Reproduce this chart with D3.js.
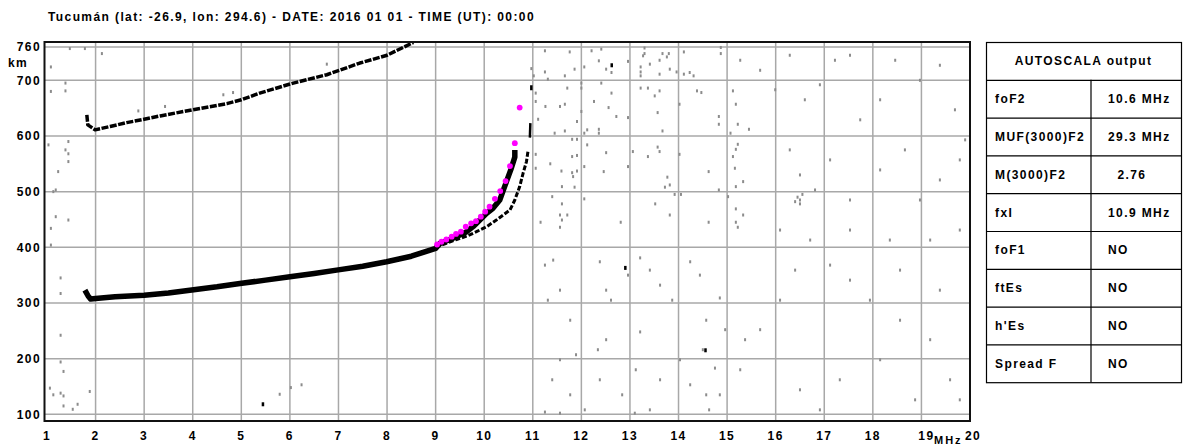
<!DOCTYPE html>
<html>
<head>
<meta charset="utf-8">
<script src="https://cdn.jsdelivr.net/npm/d3@7"></script>
<style>
  body { margin: 0; background: #fff; }
  svg text { font-family: "Liberation Sans", Arial, sans-serif; font-weight: bold; font-size: 12px; letter-spacing: 1.4px; fill: #000; }
</style>
</head>
<body>
<div id="chart"></div>
<script>
const titre = "Tucumán (lat: -26.9, lon: 294.6) - DATE: 2016 01 01 - TIME (UT): 00:00";
const freqTicks = [1, 2, 3, 4, 5, 6, 7, 8, 9, 10, 11, 12, 13, 14, 15, 16, 17, 18, 19, 20];
const hautTicks = [100, 200, 300, 400, 500, 600, 700, 760];

//------Trace F2 principale (mode O, premier saut) [MHz, km]
const traceF2 = [[1.78, 323], [1.85, 312], [1.9, 307], [2.0, 308], [2.4, 311], [3.0, 314], [3.5, 318],
  [3.94, 323], [4.5, 329], [4.97, 335], [5.5, 341], [6.0, 347], [6.5, 353], [6.96, 359], [7.5, 366],
  [7.99, 374], [8.5, 384], [9.0, 398], [9.09, 407], [9.3, 414], [9.5, 422], [9.64, 428], [9.77, 437],
  [9.91, 449], [10.05, 461], [10.18, 470], [10.32, 485], [10.42, 509], [10.55, 540], [10.63, 562], [10.63, 575]];

//------Branche extraordinaire (mode X)
const traceX = [[9.0, 400], [9.22, 407], [9.43, 414], [9.64, 420], [9.84, 428], [10.05, 437], [10.25, 449],
  [10.39, 458], [10.53, 467], [10.63, 485], [10.73, 509], [10.8, 533], [10.87, 554], [10.9, 572]];
const traceXhaut = [[10.94, 597], [10.95, 623]];
const traceXpic = [[10.97, 682], [10.97, 691]];

//------Deuxième saut
const trace2F2 = [[1.82, 638], [1.84, 620], [1.99, 611], [2.3, 617], [2.64, 624], [3.0, 630], [3.33, 636],
  [4.0, 647], [4.7, 658], [5.0, 665], [5.38, 677], [6.07, 695], [6.76, 710], [7.44, 731], [8.0, 745],
  [8.54, 768]];

//------Trace autoscalée (points magenta)
const autoscala = [[9.03, 405], [9.12, 410], [9.22, 414], [9.33, 419], [9.42, 424], [9.52, 428], [9.62, 437],
  [9.73, 443], [9.83, 447], [9.93, 455], [10.02, 464], [10.11, 473], [10.22, 487], [10.33, 501],
  [10.44, 519], [10.53, 546], [10.63, 587], [10.73, 651]];

//------Bruit (points gris isolés)
const bruit = [
  [1.08, 724], [1.08, 680], [1.38, 695], [1.38, 681], [1.03, 584], [1.44, 590], [1.38, 575], [1.44, 568],
  [1.44, 554], [1.23, 536], [1.13, 500], [1.18, 503], [1.18, 455], [1.08, 434], [1.44, 449], [1.08, 404],
  [1.28, 345], [1.28, 317], [1.28, 242], [1.28, 194], [1.34, 177], [1.06, 147], [1.13, 135], [1.28, 138],
  [1.34, 133], [1.34, 115], [1.53, 109], [1.63, 118], [1.88, 141], [5.79, 136], [6.02, 148], [6.24, 153],
  [1.47, 757], [1.78, 757], [2.13, 748], [2.88, 645], [3.43, 653], [6.76, 729], [4.63, 674], [4.83, 678],
  [11.25, 753], [11.76, 751], [10.97, 721], [11.25, 715], [11.02, 708], [11.31, 702], [11.66, 708],
  [11.86, 720], [12.21, 753], [12.41, 756], [12.36, 735], [12.06, 724], [12.62, 714], [12.51, 720],
  [12.96, 734], [13.3, 758], [13.3, 748], [13.27, 744], [13.41, 729], [13.22, 724], [13.22, 715],
  [13.22, 708], [13.61, 736], [13.67, 748], [13.8, 748], [13.76, 742], [13.82, 720], [13.61, 711],
  [13.96, 715], [14.11, 751], [14.11, 711], [14.23, 714], [14.31, 708], [14.87, 759], [14.87, 748],
  [11.06, 677], [11.06, 662], [11.26, 653], [11.56, 653], [11.66, 657], [11.71, 686], [11.11, 630],
  [11.91, 626], [11.66, 609], [11.45, 605], [12.0, 695], [12.0, 686], [12.41, 695], [12.62, 677],
  [12.26, 662], [12.0, 644], [12.56, 651], [12.72, 635], [12.96, 633], [12.12, 611], [12.36, 612],
  [12.36, 605], [12.06, 605], [13.22, 686], [13.37, 686], [13.61, 681], [13.51, 672], [13.57, 642],
  [13.67, 609], [14.02, 657], [14.38, 681], [14.47, 678], [14.83, 635], [14.83, 621], [15.12, 681],
  [15.18, 657], [15.22, 621], [15.07, 605], [15.45, 612],
  [11.81, 594], [11.91, 594], [11.06, 567], [11.36, 550], [11.81, 563], [11.91, 565], [11.06, 542],
  [11.59, 537], [11.81, 534], [11.91, 537], [11.83, 527], [11.6, 509], [11.86, 508], [12.12, 584],
  [12.06, 545], [12.51, 570], [12.46, 536], [12.96, 545], [13.06, 572], [13.37, 563], [13.57, 580],
  [13.61, 572], [13.77, 526], [13.82, 512], [13.72, 508], [14.02, 567], [14.62, 536], [14.83, 503],
  [15.22, 585], [15.18, 576], [15.12, 563], [15.16, 542], [15.33, 518], [15.18, 509],
  [11.4, 491], [11.6, 478], [11.56, 458], [11.71, 458], [11.6, 449], [11.16, 445], [11.56, 436],
  [12.06, 487], [12.81, 445], [13.52, 478], [13.82, 458], [13.92, 495], [14.05, 495], [14.62, 445],
  [15.02, 491], [15.18, 469], [15.33, 458], [15.18, 445], [15.22, 436],
  [11.25, 368], [11.42, 377], [11.56, 323], [11.31, 305], [11.77, 269], [12.38, 374], [12.51, 323],
  [12.61, 305], [12.96, 350], [13.21, 381], [13.41, 359], [13.62, 332], [13.87, 305], [14.24, 374],
  [14.44, 350], [14.57, 269], [14.85, 309], [12.51, 234], [13.21, 248], [12.34, 216], [11.89, 207],
  [11.56, 198], [11.4, 162], [11.77, 135], [12.38, 162], [12.84, 135], [13.12, 180], [13.62, 162],
  [14.03, 198], [14.24, 153], [14.5, 216], [14.57, 135], [14.85, 135], [14.63, 108], [13.41, 108],
  [13.1, 102], [12.07, 108], [11.25, 104], [11.56, 102], [14.75, 183], [14.96, 252], [15.37, 234],
  [15.27, 180], [15.68, 252], [16.09, 305], [16.4, 359], [17.12, 368], [17.53, 341], [17.94, 305],
  [18.56, 269], [19.18, 234], [19.59, 162], [19.79, 126], [16.5, 144], [16.91, 108], [17.32, 162],
  [18.15, 198], [18.87, 126], [19.38, 323], [18.56, 359],
  [15.27, 736], [15.68, 718], [15.99, 683], [16.29, 745], [16.6, 665], [16.91, 692], [17.22, 736],
  [17.53, 745], [17.74, 629], [18.15, 665], [18.46, 736], [18.97, 700], [19.38, 727], [19.69, 647],
  [19.9, 593], [16.29, 575], [16.5, 530], [16.81, 503], [16.5, 485], [17.12, 557], [17.53, 485],
  [18.15, 539], [18.66, 575], [18.97, 485], [19.38, 521], [19.79, 431], [16.09, 431], [16.71, 413],
  [17.53, 431], [18.35, 413], [19.18, 413], [19.79, 557], [16.45, 490], [16.5, 478], [16.55, 495],
  [16.4, 482]
];
const bruitNoir = [[12.62, 727], [5.44, 118], [12.9, 363], [14.55, 215]];

//------Tableau AUTOSCALA
const tabEntete = "AUTOSCALA output";
const tabNoms = ["foF2", "MUF(3000)F2", "M(3000)F2", "fxI", "foF1", "ftEs", "h'Es", "Spread F"];
const tabValeurs = ["10.6 MHz", "29.3 MHz", "  2.76", "10.9 MHz", "NO", "NO", "NO", "NO"];

//Création du svg
const svg = d3.select("#chart")
  .append("svg")
  .attr("width", 1183)
  .attr("height", 448)
  .style("background", "#fff");

//------Echelles
const x = d3.scaleLinear().domain([1, 20]).range([47, 970]);
const y = d3.scaleLinear().domain([100, 760]).range([414.3, 46.9]);

//------Cadre du graphe
const cadre = { x0: 44.5, x1: 970, y0: 42, y1: 421 };

svg.append("text")
  .attr("x", 48)
  .attr("y", 21)
  .text(titre);

svg.append("defs").append("clipPath")
  .attr("id", "clip")
  .append("rect")
  .attr("x", cadre.x0)
  .attr("y", cadre.y0)
  .attr("width", cadre.x1 - cadre.x0)
  .attr("height", cadre.y1 - cadre.y0);

//------Grille
const grille = svg.append("g").attr("stroke", "#a8a8a8").attr("stroke-width", 1.5);
grille.selectAll(".gx")
  .data(freqTicks.slice(1, -1))
  .enter()
  .append("line")
  .attr("x1", d => x(d)).attr("x2", d => x(d))
  .attr("y1", cadre.y0).attr("y2", cadre.y1);
grille.selectAll(".gy")
  .data(hautTicks)
  .enter()
  .append("line")
  .attr("x1", cadre.x0).attr("x2", cadre.x1)
  .attr("y1", d => y(d)).attr("y2", d => y(d));

const zone = svg.append("g").attr("clip-path", "url(#clip)");

//------Bruit
zone.selectAll(".bruit")
  .data(bruit)
  .enter()
  .append("rect")
  .attr("x", d => x(d[0]) - 1)
  .attr("y", d => y(d[1]) - 1.5)
  .attr("width", 2)
  .attr("height", 3)
  .attr("fill", "#8c8c8c");
zone.selectAll(".noir")
  .data(bruitNoir)
  .enter()
  .append("rect")
  .attr("x", d => x(d[0]) - 1)
  .attr("y", d => y(d[1]) - 2)
  .attr("width", 2.5)
  .attr("height", 4)
  .attr("fill", "#000");

//------Traces noires
const ligne = d3.line().x(d => x(d[0])).y(d => y(d[1]));
const traces = [
  { d: trace2F2, w: 3.5, dash: "7 1.5" },
  { d: traceF2, w: 5.5, dash: null },
  { d: traceX, w: 3, dash: "5 2" },
  { d: traceXhaut, w: 2.5, dash: null },
  { d: traceXpic, w: 2.5, dash: null }
];
zone.selectAll(".trace")
  .data(traces)
  .enter()
  .append("path")
  .attr("d", t => ligne(t.d))
  .attr("fill", "none")
  .attr("stroke", "#000")
  .attr("stroke-width", t => t.w)
  .attr("stroke-dasharray", t => t.dash)
  .attr("stroke-linejoin", "round");

//------Points autoscala
zone.selectAll(".auto")
  .data(autoscala)
  .enter()
  .append("circle")
  .attr("cx", d => x(d[0]))
  .attr("cy", d => y(d[1]))
  .attr("r", 2.9)
  .attr("fill", "#ff00ff");

//------Cadre
svg.append("rect")
  .attr("x", cadre.x0)
  .attr("y", cadre.y0)
  .attr("width", cadre.x1 - cadre.x0)
  .attr("height", cadre.y1 - cadre.y0)
  .attr("fill", "none")
  .attr("stroke", "#111")
  .attr("stroke-width", 2);

//------Etiquettes des axes
svg.selectAll(".tx")
  .data(freqTicks)
  .enter()
  .append("text")
  .attr("x", d => x(d) + (d === 19 ? 5 : 0) + (d === 20 ? 3 : 0))
  .attr("y", 440)
  .attr("text-anchor", "middle")
  .text(d => d);

svg.append("text")
  .attr("x", 934)
  .attr("y", 444)
  .style("font-size", "11px")
  .style("letter-spacing", "2px")
  .text("MHz");

svg.selectAll(".ty")
  .data(hautTicks)
  .enter()
  .append("text")
  .attr("x", 41)
  .attr("y", d => y(d) + 4.5)
  .attr("text-anchor", "end")
  .text(d => d);

svg.append("text")
  .attr("x", 8)
  .attr("y", 67)
  .text("km");

//------Tableau
const tab = { x0: 986, x1: 1181, xm: 1091, y0: 42, h: 37.8 };
const tg = svg.append("g");
const lignesTab = tabNoms.length + 1;
tg.append("rect")
  .attr("x", tab.x0 + 0.5)
  .attr("y", tab.y0 + 0.5)
  .attr("width", tab.x1 - tab.x0)
  .attr("height", tab.h * lignesTab)
  .attr("fill", "#fff")
  .attr("stroke", "#000")
  .attr("stroke-width", 1.2);
tg.selectAll(".hl")
  .data(d3.range(1, lignesTab))
  .enter()
  .append("line")
  .attr("x1", tab.x0).attr("x2", tab.x1)
  .attr("y1", i => tab.y0 + 0.5 + i * tab.h)
  .attr("y2", i => tab.y0 + 0.5 + i * tab.h)
  .attr("stroke", "#000")
  .attr("stroke-width", 1.2);
tg.append("line")
  .attr("x1", tab.xm).attr("x2", tab.xm)
  .attr("y1", tab.y0 + tab.h).attr("y2", tab.y0 + tab.h * lignesTab)
  .attr("stroke", "#000")
  .attr("stroke-width", 1.2);
tg.append("text")
  .attr("x", (tab.x0 + tab.x1) / 2)
  .attr("y", tab.y0 + tab.h / 2 + 4.5)
  .attr("text-anchor", "middle")
  .text(tabEntete);
tg.selectAll(".nom")
  .data(tabNoms)
  .enter()
  .append("text")
  .attr("x", tab.x0 + 9)
  .attr("y", (d, i) => tab.y0 + tab.h * (i + 1.5) + 4.5)
  .text(d => d);
tg.selectAll(".val")
  .data(tabValeurs)
  .enter()
  .append("text")
  .attr("x", tab.xm + 17)
  .attr("y", (d, i) => tab.y0 + tab.h * (i + 1.5) + 4.5)
  .style("white-space", "pre")
  .text(d => d);
</script>
</body>
</html>
